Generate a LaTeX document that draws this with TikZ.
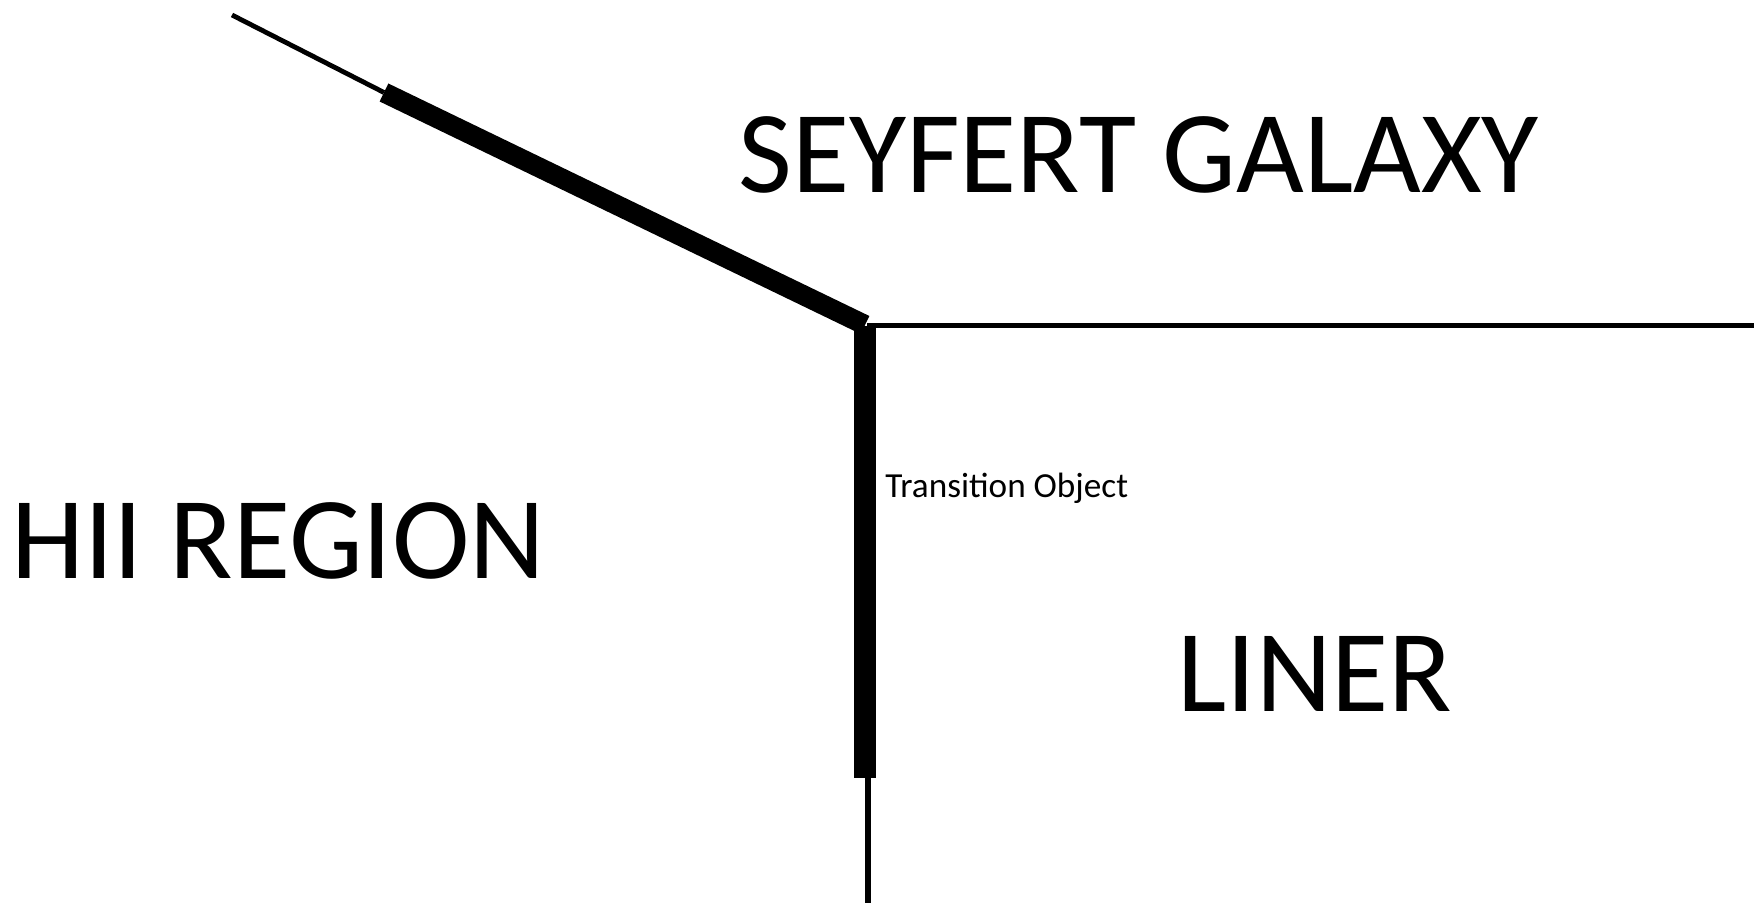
\documentclass[tikz,border=0pt]{standalone}
\usepackage{fontspec}
\setmainfont{Carlito}
\tikzset{
  bigtext/.style={anchor=base west, inner sep=0pt, font=\fontsize{58.5}{66}\selectfont},
  smalltext/.style={anchor=base west, inner sep=0pt, font=\fontsize{17.6}{20}\selectfont},
  thinline/.style={line width=2.4pt, line cap=butt},
  thickline/.style={line width=10pt, line cap=butt},
  barline/.style={line width=11pt, line cap=butt},
  hline/.style={line width=2.6pt, line cap=butt},
  tailline/.style={line width=3pt, line cap=butt}
}
\begin{document}
\begin{tikzpicture}[x=0.5pt, y=-0.5pt]
\useasboundingbox (0,0) rectangle (1754,903);
% key points
\coordinate (t0) at (232,15);
\coordinate (a) at (384,92.5);
\coordinate (j) at (865,325);
\coordinate (vtop) at (865,326);
\coordinate (vbot) at (865,778);
\coordinate (btop) at (868,778);
\coordinate (bend) at (868,903);
\coordinate (hstart) at (867,325.5);
\coordinate (hend) at (1754,325.5);
% lines
\draw[thinline] (t0) -- (a);
\draw[thickline] (a) -- (j);
\draw[barline] (vtop) -- (vbot);
\draw[hline] (hstart) -- (hend);
\draw[tailline] (btop) -- (bend);
% labels
\node[bigtext] (seyfert) at (738,192.5) {SEYFERT GALAXY};
\node[bigtext] (hii) at (11,578) {HII REGION};
\node[bigtext] (liner) at (1177,711) {LINER};
\node[smalltext] (trans) at (885,497.5) {Transition Object};
\end{tikzpicture}
\end{document}
